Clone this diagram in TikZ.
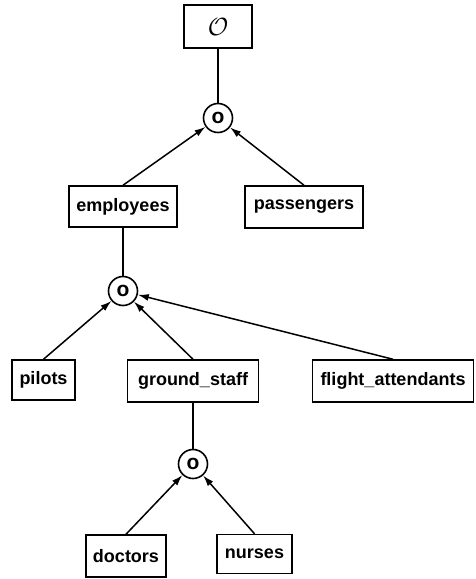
\documentclass[tikz,border=0pt]{standalone}
\usepackage{fontspec}
\setmainfont{Liberation Sans}
\usetikzlibrary{arrows.meta}
\begin{document}
\begin{tikzpicture}[x=1pt,y=-1pt,
  box/.style={draw,line width=1.5pt,inner sep=0pt,font=\fontsize{18}{20}\selectfont\bfseries},
  agg/.style={draw,circle,line width=1.6pt,minimum size=29pt,inner sep=0pt,font=\fontsize{21}{20}\selectfont\bfseries},
  arr/.style={line width=1.5pt,-{Latex[length=11pt,width=7pt]}},
  link/.style={line width=1.5pt}]
\useasboundingbox (0,0) rectangle (475,579);
\node[box,minimum width=68pt,minimum height=43pt] (top) at (218,26.5) {\fontsize{24}{20}\selectfont$\mathcal{O}$};
\node[agg] (c1) at (218,118) {o};
\node[box,minimum width=108pt,minimum height=41pt] (emp) at (123,206.5) {employees};
\node[box,minimum width=118pt,minimum height=42pt] (pas) at (304,207) {passengers};
\node[agg] (c2) at (123,291) {o};
\node[box,minimum width=63pt,minimum height=40pt] (pil) at (43.5,380) {pilots};
\node[box,minimum width=131pt,minimum height=42pt] (gs) at (193,381) {ground\_staff};
\node[box,minimum width=161pt,minimum height=42pt] (fa) at (393,381) {flight\_attendants};
\node[agg] (c3) at (193,464) {o};
\node[box,minimum width=80pt,minimum height=42pt] (doc) at (126,556) {doctors};
\node[box,minimum width=75pt,minimum height=39pt] (nur) at (254.5,554) {nurses};
\draw[link] (top) -- (c1);
\draw[link] (emp) -- (c2);
\draw[link] (gs) -- (c3);
\draw[arr] (emp.north) -- (c1);
\draw[arr] (pas.north) -- (c1);
\draw[arr] (pil.north) -- (c2);
\draw[arr] (gs.north) -- (c2);
\draw[arr] (fa.north) -- (c2);
\draw[arr] (doc.north) -- (c3);
\draw[arr] (nur.north) -- (c3);
\end{tikzpicture}
\end{document}
